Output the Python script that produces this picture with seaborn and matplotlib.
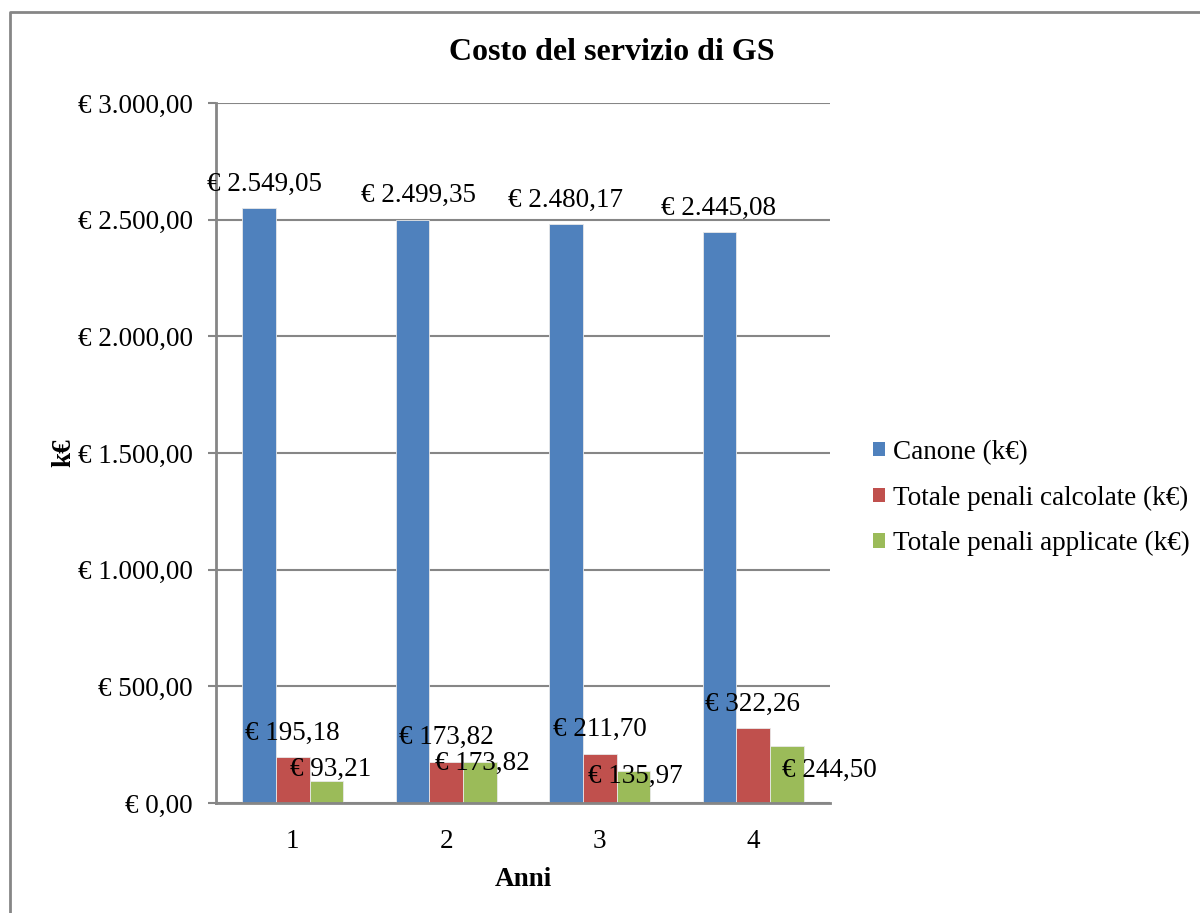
import matplotlib
matplotlib.use("Agg")
import matplotlib.pyplot as plt
from matplotlib.lines import Line2D
from matplotlib.patches import Patch
import seaborn as sns
import pandas as pd

# Data (k€)
anni = ["1", "2", "3", "4"]
serie = ["Canone (k€)", "Totale penali calcolate (k€)", "Totale penali applicate (k€)"]
canone = [2549.05, 2499.35, 2480.17, 2445.08]
penali_calcolate = [195.18, 173.82, 211.70, 322.26]
penali_applicate = [93.21, 173.82, 135.97, 244.50]
y_ticks = [0, 500, 1000, 1500, 2000, 2500, 3000]

colori = ["#4F81BD", "#C0504D", "#9BBB59"]

df = pd.DataFrame({
    "Anni": anni * 3,
    "Valore": canone + penali_calcolate + penali_applicate,
    "Serie": [serie[0]] * 4 + [serie[1]] * 4 + [serie[2]] * 4,
})

sns.set_style("white")
plt.rcParams["font.family"] = ["Liberation Serif", "DejaVu Serif"]
plt.rcParams["text.color"] = "black"
plt.rcParams["axes.labelcolor"] = "black"
plt.rcParams["xtick.color"] = "black"
plt.rcParams["ytick.color"] = "black"
GRAY = "#868686"
FS = 19.5


def euro(v):
    s = f"{v:,.2f}"
    s = s.replace(",", "X").replace(".", ",").replace("X", ".")
    return "€ " + s


fig = plt.figure(figsize=(12, 9.13), dpi=100)
W, H = 1200, 913
ax = fig.add_axes([216 / W, 1 - 803 / H, 614 / W, 700 / H])

sns.barplot(data=df, x="Anni", y="Valore", hue="Serie", palette=colori,
            width=0.66, saturation=1, ax=ax, legend=False,
            edgecolor="#e8e8e8", linewidth=0.6, zorder=3)

ax.set_xlim(-0.5, 3.5)
ax.set_ylim(0, 3000)
ax.set_yticks(y_ticks)
ax.set_yticklabels([euro(v) for v in y_ticks], fontsize=FS)
ax.tick_params(axis="y", length=8 * 0.72, width=1.5, color=GRAY, labelcolor="black",
               pad=15 * 0.72, left=True)
ax.tick_params(axis="x", length=0, pad=26 * 0.72, labelsize=FS, labelcolor="black")
ax.grid(axis="y", color=GRAY, linewidth=1.5, zorder=0)
ax.set_axisbelow(True)
for side in ["top", "right"]:
    ax.spines[side].set_visible(False)
for side in ["left", "bottom"]:
    ax.spines[side].set_color(GRAY)
    ax.spines[side].set_linewidth(2)
    ax.spines[side].set_zorder(4)

ax.set_xlabel("Anni", fontsize=FS, fontweight="bold", labelpad=9)
ax.set_ylabel("k€", fontsize=FS, fontweight="bold", labelpad=1)

# Value labels: pixel offsets (dx, dy) from the top centre of each bar
px = 0.72
offsets = [
    [(6, 24), (6, 24), (0, 24), (-1, 24)],
    [(0, 24), (0, 25), (0, 24), (-1, 23)],
    [(4, 12), (2, -1), (2, -5), (42, -24)],
]
for k, cont in enumerate(ax.containers):
    for j, bar in enumerate(cont):
        v = bar.get_height()
        cx = bar.get_x() + bar.get_width() / 2
        dx, dy = offsets[k][j]
        ax.annotate(euro(v), (cx, v), xytext=(dx * px, dy * px),
                    textcoords="offset points", ha="center", va="center",
                    fontsize=FS, zorder=5)

fig.text(612 / W, 1 - 53 / H, "Costo del servizio di GS", ha="center", va="center",
         fontsize=23, fontweight="bold")

handles = [Patch(facecolor=c, edgecolor="none") for c in colori]
fig.legend(handles, serie, loc="center left", bbox_to_anchor=(873 / W, 1 - 498 / H),
           frameon=False, fontsize=FS, handlelength=0.45, handleheight=0.45,
           handletextpad=0.28, labelspacing=0.76, borderaxespad=0, borderpad=0)

fig.add_artist(Line2D([10 / W, 10 / W, 1.0], [0, 1 - 12 / H, 1 - 12 / H],
                      transform=fig.transFigure, color=GRAY, linewidth=2))

fig.savefig("out.png", dpi=100)
